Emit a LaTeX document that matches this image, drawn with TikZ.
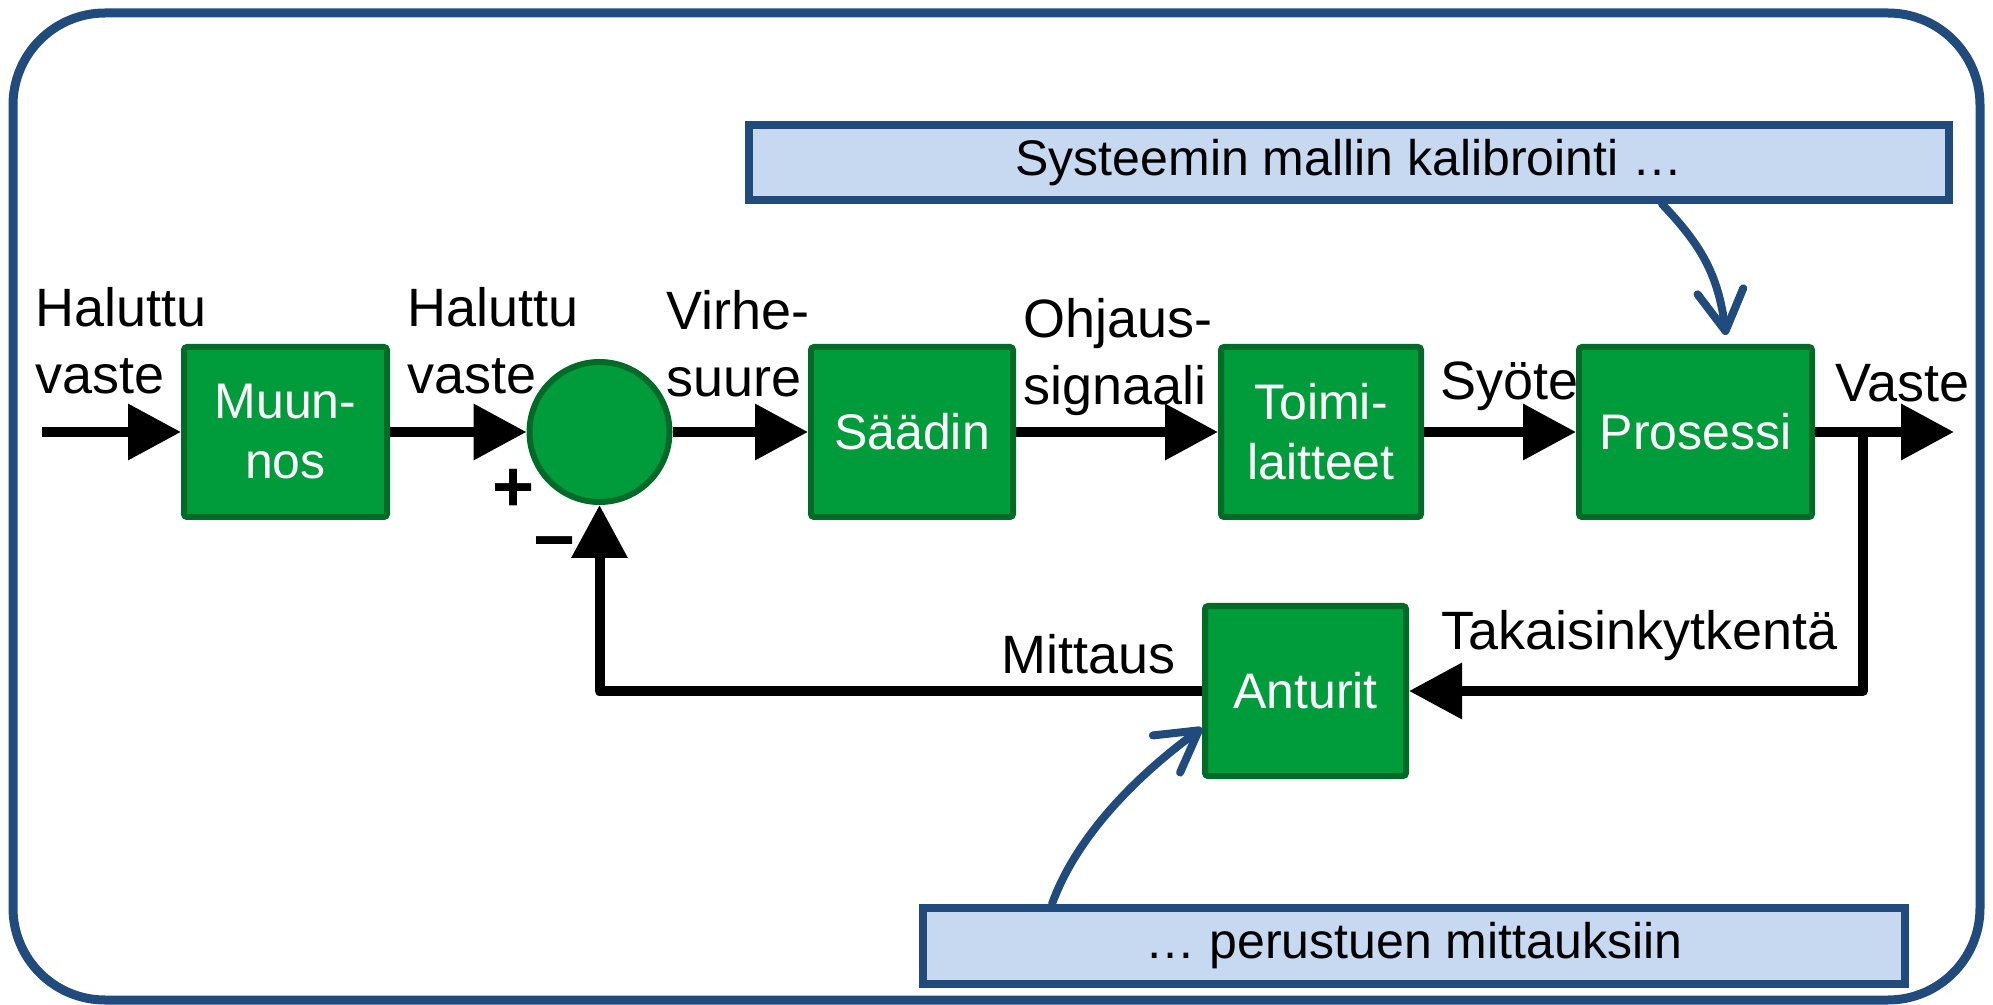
\documentclass[tikz,border=0pt]{standalone}
\usepackage{fontspec}
\setmainfont{Liberation Sans}
\usetikzlibrary{arrows.meta}
\definecolor{boxgreen}{RGB}{0,155,58}
\definecolor{boxedge}{RGB}{0,107,40}
\definecolor{navy}{RGB}{33,74,125}
\definecolor{callfill}{RGB}{198,217,241}
\begin{document}
\begin{tikzpicture}[x=0.5pt,y=-0.5pt,
  blk/.style={draw=boxedge, line width=3pt, fill=boxgreen, rounded corners=1.5pt,
    minimum height=85pt, inner sep=0pt, text=white, align=center,
    font=\fontsize{25}{30}\selectfont},
  sumnode/.style={circle, draw=boxedge, line width=3pt, fill=boxgreen,
    minimum size=70pt, inner sep=0pt},
  sig/.style={line width=5pt, -{Triangle[length=26.5pt,width=27pt]}, line join=round},
  lbl/.style={inner sep=0pt, align=left, anchor=base west,
    font=\fontsize{27}{33.5}\selectfont},
  sign/.style={inner sep=0pt, font=\fontsize{36}{40}\selectfont\bfseries},
  callout/.style={draw=navy, line width=4pt, fill=callfill, inner sep=0pt,
    font=\fontsize{25}{30}\selectfont},
  note/.style={draw=navy, line width=4pt, line cap=round,
    -{Straight Barb[length=20pt,width=23pt,round]}},
]
\useasboundingbox (0,0) rectangle (1993,1005);
\draw[navy, line width=4.5pt, rounded corners=46pt] (13,13) rectangle (1980,1000);

% blocks
\node[blk, minimum width=101.5pt] (muun) at (285.5,432) {Muun-\\nos};
\node[sumnode] (sum) at (599.5,432) {};
\node[blk, minimum width=101pt] (saadin) at (912,432) {Säädin};
\node[blk, minimum width=100pt] (toimi) at (1321,432) {Toimi-\\laitteet};
\node[blk, minimum width=116.5pt] (proc) at (1695.5,432) {Prosessi};
\node[blk, minimum width=100.5pt] (anturit) at (1305.5,691) {Anturit};

% callouts
\node[callout, minimum width=600pt, minimum height=37.5pt] (cal1) at (1349,162.5) {Systeemin mallin kalibrointi …};
\node[callout, minimum width=491pt, minimum height=38pt] (cal2) at (1414,946) {… perustuen mittauksiin};

% coordinates
\coordinate (in) at (42,432);
\coordinate (out) at (1954,432);
\coordinate (split) at (1863,432);
\coordinate (fbr) at (1863,691);
\coordinate (fbl) at (599.5,691);

% signals
\draw[sig] (in) -- (muun.west);
\draw[sig] (muun.east) -- (sum.west);
\draw[sig] (sum.east) -- (saadin.west);
\draw[sig] (saadin.east) -- (toimi.west);
\draw[sig] (toimi.east) -- (proc.west);
\draw[sig] (proc.east) -- (out);
\draw[sig] (split) -- (fbr) -- (anturit.east);
\draw[sig] (anturit.west) -- (fbl) -- (sum.south);

% labels (base = baseline of last line)
\node[lbl] (l1) at (35,394) {Haluttu\\vaste};
\node[lbl] (l2) at (407,394) {Haluttu\\vaste};
\node[lbl] (l3) at (666,397) {Virhe-\\suure};
\node[lbl] (l4) at (1023,405) {Ohjaus-\\signaali};
\node[lbl] (l5) at (1440,400) {Syöte};
\node[lbl] (l6) at (1835,402) {Vaste};
\node[lbl] (l7) at (1441,649) {Takaisinkytkentä};
\node[lbl] (l8) at (1001,673) {Mittaus};
\node[sign] (plus) at (514,490) {+};
\node[sign] (minus) at (555,551) {−};

% notes
\draw[note] ([xshift=156.5pt]cal1.south) .. controls +(38,40) and +(-8,-62) .. ([xshift=15.25pt,yshift=4.5pt]proc.north);
\draw[note] ([xshift=-181pt]cal2.north) .. controls +(23,-64) and +(-71,52) .. ([yshift=-18.5pt]anturit.west);
\end{tikzpicture}
\end{document}
